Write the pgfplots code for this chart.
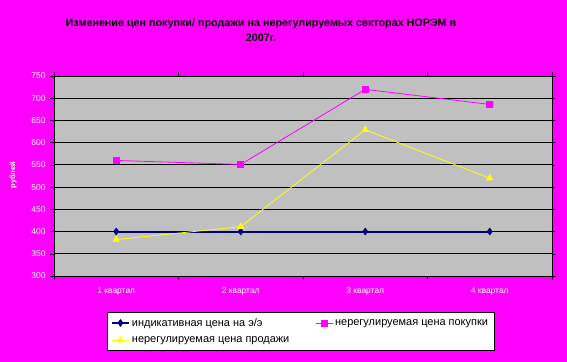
\documentclass[border=0pt]{standalone}
\usepackage{pgfplots}
\pgfplotsset{compat=1.18}
\usepackage{fontspec}
\setmainfont{Liberation Sans}
\definecolor{bgmag}{RGB}{255,0,255}
\definecolor{plotgray}{RGB}{192,192,192}
\definecolor{navyb}{RGB}{0,0,128}
\definecolor{yel}{RGB}{255,255,0}
\begin{document}
\begin{tikzpicture}
\fill[bgmag] (0,0) rectangle (567bp,362bp);
\node[align=center,font=\fontsize{10.8}{15}\selectfont\bfseries] at (261bp,332bp) {Изменение цен покупки/ продажи на нерегулируемых секторах НОРЭМ в\\2007г.};
\begin{axis}[
  at={(54bp,86bp)}, anchor=south west,
  scale only axis, width=498bp, height=200bp,
  axis background/.style={fill=plotgray},
  xmin=-0.5, xmax=3.5, ymin=300, ymax=750,
  ytick={300,350,...,750},
  xtick={0,1,2,3},
  xticklabels={1 квартал,2 квартал,3 квартал,4 квартал},
  minor xtick={-0.5,0.5,1.5,2.5,3.5},
  major x tick style={draw=none},
  tick align=outside,
  tick style={black, thin},
  major tick length=4bp, minor tick length=4bp,
  ymajorgrids, grid style={black, line width=0.8pt},
  axis line style={black, line width=0.8pt},
  ticklabel style={font=\fontsize{8.5}{9}\selectfont, text=white},
  /pgf/number format/assume math mode=true,
  yticklabel style={xshift=-1bp},
  xticklabel style={yshift=-4bp},
  ylabel={рублей},
  ylabel style={font=\fontsize{7.5}{8}\selectfont\bfseries, text=white, at={(rel axis cs:-0.068,0.505)}, rotate=0},
  legend columns=2,
  legend cell align=left,
  legend style={at={(rel axis cs:0.106,-0.18)}, anchor=north west, draw=black, fill=white,
    font=\fontsize{11}{12}\selectfont, inner xsep=4bp, inner ysep=4bp, row sep=5bp,
    /tikz/every even column/.append style={column sep=24bp}},
]
\addplot[navyb, line width=2pt, mark=diamond*, mark size=3.5bp, mark options={fill=navyb, draw=navyb, line width=0.5pt}]
  coordinates {(0,400) (1,400) (2,400) (3,400)};
\addlegendentry{индикативная цена на э/э}
\addplot[bgmag, line width=0.8pt, mark=square*, mark size=3bp, mark options={fill=bgmag, draw=bgmag}]
  coordinates {(0,560) (1,551) (2,720) (3,686)};
\addlegendentry{нерегулируемая цена покупки}
\addplot[yel, line width=0.8pt, mark=triangle*, mark size=3.5bp, mark options={fill=yel, draw=yel}]
  coordinates {(0,382) (1,411) (2,629) (3,520)};
\addlegendentry{нерегулируемая цена продажи}
\end{axis}
\end{tikzpicture}
\end{document}
